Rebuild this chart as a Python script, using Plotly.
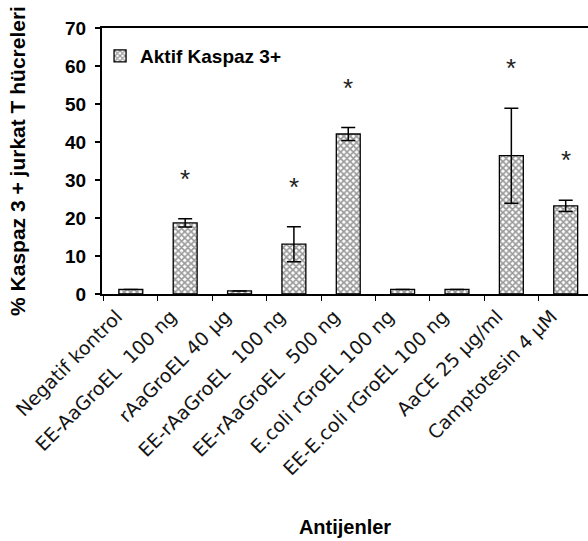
import plotly.graph_objects as go

# Antigen groups and mean active caspase-3+ Jurkat T cell percentages
categories = [
    "Negatif kontrol",
    "EE-AaGroEL  100 ng",
    "rAaGroEL 40 µg",
    "EE-rAaGroEL  100 ng",
    "EE-rAaGroEL  500 ng",
    "E.coli rGroEL 100 ng",
    "EE-E.coli rGroEL 100 ng",
    "AaCE 25 µg/ml",
    "Camptotesin 4 µM",
]
means = [1.2, 18.7, 0.8, 13.1, 42.1, 1.2, 1.2, 36.4, 23.2]
errors = [0, 1.1, 0, 4.6, 1.7, 0, 0, 12.5, 1.5]
significant = [False, True, False, True, True, False, False, True, True]
y_ticks = [0, 10, 20, 30, 40, 50, 60, 70]

FONT = "Liberation Sans, Arial, sans-serif"
WIDE_FONT = "DejaVu Sans, Verdana, sans-serif"
STAR_GAP = 10.5  # space between error-bar cap and the significance star

fig = go.Figure()
fig.add_trace(go.Bar(
    x=categories,
    y=means,
    name="Aktif Kaspaz 3+",
    width=0.44,
    marker=dict(
        color="white",
        line=dict(color="black", width=1.3),
        pattern=dict(shape="x", size=4.5, solidity=0.6,
                     fgcolor="#333333", bgcolor="white"),
    ),
    error_y=dict(type="data", array=errors, visible=True,
                 color="black", thickness=1.5, width=7),
    showlegend=True,
))

for cat, m, e, s in zip(categories, means, errors, significant):
    if s:
        fig.add_annotation(
            x=cat, y=m + e + STAR_GAP, text="*", showarrow=False,
            font=dict(family=FONT, size=26, color="#222222"),
            yanchor="middle", xanchor="center",
        )

fig.update_layout(
    width=588, height=541,
    margin=dict(l=102, r=0, t=28, b=247),
    paper_bgcolor="white", plot_bgcolor="white",
    font=dict(family=FONT, color="black"),
    bargap=0.56,
    legend=dict(
        x=-0.004, y=0.966, xanchor="left", yanchor="top",
        bgcolor="rgba(0,0,0,0)",
        font=dict(family=FONT, size=19, color="black", weight="bold"),
        itemwidth=30,
    ),
    xaxis=dict(
        type="category",
        range=[-0.53, 8.41],
        showline=True, linecolor="black", linewidth=2,
        mirror=True,
        ticks="outside", tickson="boundaries", ticklen=5,
        tickcolor="black", tickwidth=1,
        tickangle=-45,
        ticklabelshift=-14,
        ticklabelstandoff=2,
        tickfont=dict(family=WIDE_FONT, size=19, color="#151515"),
        showgrid=False,
        title=dict(text="Antijenler", standoff=42,
                   font=dict(family=FONT, size=20, weight="bold")),
    ),
    yaxis=dict(
        range=[0, 70],
        tickvals=y_ticks,
        showline=True, linecolor="black", linewidth=2,
        ticks="outside", ticklen=5, tickcolor="black", tickwidth=1.5,
        ticklabelstandoff=5,
        tickfont=dict(family=FONT, size=19, weight="bold"),
        showgrid=False, zeroline=False,
        title=dict(text="% Kaspaz 3 + jurkat T hücreleri",
                   font=dict(family=FONT, size=21, weight="bold"),
                   standoff=34),
    ),
)

fig.write_html("out.html")
